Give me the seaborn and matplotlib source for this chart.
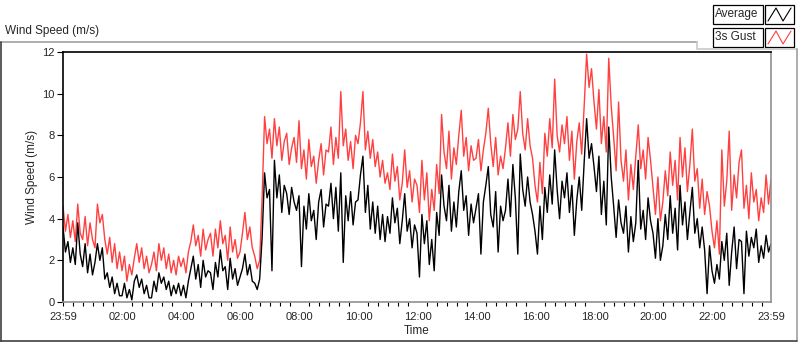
import matplotlib
matplotlib.use("Agg")
import pandas as pd
import seaborn as sns
import matplotlib.pyplot as plt
import matplotlib.dates as mdates
from matplotlib.lines import Line2D
from matplotlib.patches import Rectangle

# 3s gust, one reading every 5 minutes from 23:59
gust = [
    4.6, 3.4, 4.2, 3.1, 3.9, 2.9, 4.7, 3.3, 3.0, 4.1, 2.7, 3.8,
    3.0, 2.6, 4.7, 3.8, 4.2, 3.0, 2.3, 3.1, 1.9, 2.8, 1.6, 2.4,
    1.5, 2.2, 1.0, 1.8, 1.3, 2.1, 2.8, 1.9, 2.6, 1.6, 2.2, 1.4,
    1.8, 2.4, 1.5, 2.8, 2.0, 2.6, 1.6, 2.3, 1.4, 2.0, 1.3, 2.2,
    1.7, 2.1, 1.4, 2.4, 2.9, 3.7, 2.7, 3.2, 2.2, 3.5, 2.5, 3.0,
    3.3, 2.2, 3.5, 2.6, 3.9, 2.8, 3.2, 2.0, 3.6, 2.4, 3.0, 2.1,
    2.4, 3.3, 4.3, 3.0, 3.6, 2.6, 2.2, 1.6, 2.0, 5.0, 8.9, 7.6,
    8.3, 6.9, 8.8, 7.5, 8.4, 6.8, 7.7, 8.1, 6.6, 7.4, 7.9, 6.7,
    8.7, 6.4, 7.3, 5.9, 7.8, 6.5, 7.0, 5.7, 6.8, 7.6, 6.1, 7.3,
    7.2, 8.4, 6.6, 7.9, 6.9, 10.1, 7.5, 8.3, 6.8, 7.7, 6.4, 8.0,
    7.6, 8.6, 10.1, 7.3, 8.2, 6.9, 7.8, 6.5, 7.2, 6.0, 6.8, 5.7,
    6.2, 5.4, 7.1, 5.8, 6.5, 4.9, 5.7, 7.3, 5.5, 6.3, 4.8, 5.9,
    5.6, 4.3, 6.8, 4.9, 6.2, 3.9, 5.4, 4.4, 6.6, 5.2, 9.0, 7.2,
    6.4, 8.2, 5.9, 7.4, 6.6, 8.0, 9.2, 7.0, 7.9, 6.3, 7.5, 6.8,
    6.9, 7.8, 6.3, 7.3, 8.1, 9.3, 7.6, 6.5, 7.9, 6.1, 7.0, 6.4,
    7.4, 8.6, 7.0, 9.0, 7.8, 8.3, 10.1, 8.1, 7.3, 8.8, 7.5, 6.9,
    5.6, 4.8, 6.7, 5.2, 8.1, 7.0, 8.8, 7.4, 10.7, 8.0, 7.2, 8.5,
    7.6, 8.9, 6.8, 8.2, 5.9, 7.7, 8.6, 7.1, 9.4, 11.9, 10.3, 11.2,
    9.6, 8.3, 10.2, 7.6, 8.9, 7.2, 11.7, 9.4, 7.9, 6.3, 9.6, 6.8,
    5.8, 7.3, 4.9, 6.6, 5.4, 7.0, 8.5, 6.4, 7.3, 5.9, 7.9, 6.8,
    5.5, 4.2, 6.0, 3.9, 4.8, 6.3, 5.1, 7.2, 5.6, 6.8, 4.9, 7.9,
    6.0, 7.4, 5.3, 6.6, 8.3, 5.8, 6.4, 4.5, 5.9, 4.2, 5.3, 4.6,
    3.4, 2.6, 3.9, 2.3, 7.3, 4.6, 5.8, 8.2, 4.4, 6.1, 5.0, 6.7,
    7.3, 4.5, 5.6, 4.0, 6.2, 4.8, 5.4, 3.9, 5.0, 4.3, 6.1, 4.7, 5.9,
]

# average wind speed, same timestamps
average = [
    3.6, 2.4, 2.9, 1.9, 2.6, 1.8, 3.8, 2.3, 1.7, 2.8, 1.4, 2.3,
    1.3, 1.9, 2.8, 2.0, 2.6, 1.1, 1.4, 0.7, 1.2, 0.4, 0.9, 0.3,
    0.3, 0.9, 0.2, 0.6, 0.1, 1.0, 1.3, 0.7, 1.1, 0.4, 0.8, 0.2,
    0.2, 1.0, 0.5, 1.4, 0.9, 1.2, 0.6, 1.0, 0.3, 0.8, 0.4, 0.9,
    0.3, 0.8, 0.2, 1.0, 1.6, 2.2, 1.1, 1.8, 0.7, 2.0, 1.2, 1.5,
    1.4, 0.6, 1.9, 1.2, 2.5, 1.5, 1.7, 0.6, 2.1, 1.1, 1.6, 0.8,
    1.2, 1.6, 2.3, 1.3, 1.8, 1.0, 0.9, 0.6, 1.1, 3.1, 6.2, 5.0,
    5.4, 1.5, 6.8, 5.0, 6.1, 4.3, 5.6, 5.2, 4.2, 5.5, 4.8, 4.4,
    5.1, 1.7, 4.6, 3.5, 5.2, 3.9, 4.4, 3.0, 4.8, 5.4, 3.6, 4.7,
    4.6, 5.7, 4.0, 5.5, 3.4, 6.2, 1.9, 5.1, 3.9, 5.3, 3.7, 4.8,
    4.9, 6.1, 7.0, 4.3, 5.6, 3.5, 4.8, 3.3, 4.6, 3.0, 4.2, 2.9,
    4.1, 3.3, 5.0, 3.8, 4.5, 2.8, 3.9, 5.2, 3.4, 4.0, 2.6, 3.7,
    3.3, 1.2, 4.2, 2.8, 3.9, 1.8, 3.0, 1.5, 4.3, 3.2, 6.1, 4.6,
    3.9, 5.6, 3.4, 4.8, 3.6, 5.3, 6.3, 4.4, 5.1, 3.2, 4.7, 3.8,
    4.5, 5.2, 2.3, 4.8, 5.6, 6.5, 4.2, 3.6, 5.3, 2.4, 4.6, 3.9,
    4.4, 5.9, 4.1, 6.6, 5.0, 2.3, 7.1, 5.4, 4.6, 6.0, 4.8, 4.2,
    3.4, 2.3, 4.6, 3.0, 5.5, 4.3, 6.1, 4.7, 7.3, 5.4, 4.0, 5.8,
    5.0, 6.2, 4.3, 5.6, 3.2, 4.9, 6.0, 4.4, 6.7, 8.8, 6.9, 7.6,
    6.5, 5.3, 7.0, 4.2, 5.8, 3.7, 8.4, 6.0, 4.6, 3.1, 4.9, 3.8,
    3.3, 4.6, 2.4, 4.1, 2.9, 3.8, 6.8, 3.5, 4.4, 3.0, 5.0, 3.9,
    3.3, 2.1, 4.0, 2.0, 2.7, 4.2, 3.0, 5.1, 3.3, 4.5, 2.5, 5.6,
    3.7, 4.8, 3.0, 4.3, 5.5, 3.3, 4.0, 2.6, 3.6, 2.5, 0.4, 2.7,
    1.5, 0.9, 1.8, 1.1, 2.9, 2.0, 3.3, 0.8, 2.4, 3.6, 1.6, 3.0,
    2.9, 0.4, 3.4, 2.2, 3.1, 2.6, 3.5, 1.9, 2.7, 2.1, 3.2, 2.4, 2.8,
]

tick_labels = ["23:59", "02:00", "04:00", "06:00", "08:00", "10:00", "12:00",
               "14:00", "16:00", "18:00", "20:00", "22:00", "23:59"]
y_ticks = [0, 2, 4, 6, 8, 10, 12]

times = pd.date_range("2020-01-01 23:59", periods=len(gust), freq="5min")
df = pd.DataFrame({
    "Time": list(times) * 2,
    "Wind": gust + average,
    "Series": ["3s Gust"] * len(gust) + ["Average"] * len(average),
})

sns.set_style("white")
plt.rcParams["font.family"] = ["Liberation Sans", "DejaVu Sans"]

W, H = 800, 342
def fx(px):
    return px / W
def fy(py):
    return 1 - py / H

fig = plt.figure(figsize=(8, 3.42), dpi=100)
ax = fig.add_axes([fx(63), fy(302), (771 - 63) / W, (302 - 52) / H])

sns.lineplot(data=df, x="Time", y="Wind", hue="Series",
             hue_order=["3s Gust", "Average"],
             palette={"3s Gust": "#ff4040", "Average": "black"},
             estimator=None, linewidth=1.0, legend=False, ax=ax)

ax.set_xlim(times[0], times[-1])
ax.set_ylim(0, 12)

# major ticks: start, every 2 hours, end
major = [times[0]] + [pd.Timestamp("2020-01-02 02:00") + pd.Timedelta(hours=2 * k) for k in range(11)] + [times[-1]]
ax.set_xticks(major)
ax.set_xticklabels(tick_labels)
ax.xaxis.set_minor_locator(mdates.MinuteLocator(byminute=[0, 20, 40]))
ax.set_yticks(y_ticks)
ax.set_yticklabels([str(v) for v in y_ticks])

ax.tick_params(axis="x", which="major", direction="out", length=5, width=0.8,
               color="black", labelsize=8, pad=2)
ax.tick_params(axis="x", which="minor", direction="out", length=3, width=0.8,
               color="black", bottom=True)
ax.tick_params(axis="y", which="major", direction="out", length=4, width=0.8,
               color="black", labelsize=8, pad=2, left=True)

ax.set_xlabel("Time", fontsize=8.5, labelpad=2)
ax.set_ylabel("Wind Speed (m/s)", fontsize=8.5, labelpad=3)

for side in ["top", "left"]:
    ax.spines[side].set_color("black")
    ax.spines[side].set_linewidth(1.2)
for side in ["right", "bottom"]:
    ax.spines[side].set_color("#909090")
    ax.spines[side].set_linewidth(1.2)

# panel title and frame
fig.text(fx(5), fy(31), "Wind Speed (m/s)", fontsize=8.5, va="center", ha="left")
frame = dict(transform=fig.transFigure, lw=1.2)
fig.add_artist(Line2D([fx(0), fx(697)], [fy(42), fy(42)], color="#a0a0a0", **frame))
fig.add_artist(Line2D([fx(697), fx(697), fx(797)], [fy(42), fy(49), fy(49)], color="#c8c8c8", **frame))
fig.add_artist(Line2D([fx(797), fx(797)], [fy(49), fy(341)], color="#a0a0a0", **frame))
fig.add_artist(Line2D([fx(0.5), fx(0.5)], [fy(42), fy(341)], color="#404040", **frame))
fig.add_artist(Line2D([fx(0), fx(797)], [fy(340.5), fy(340.5)], color="#404040", **frame))

# legend boxes
legend_items = [("Average", "black", 5), ("3s Gust", "#ff4040", 28)]
for name, col, top in legend_items:
    fig.add_artist(Rectangle((fx(713), fy(top + 19)), 50 / W, 19 / H, transform=fig.transFigure,
                             facecolor="white", edgecolor="black", lw=0.9))
    fig.add_artist(Rectangle((fx(765), fy(top + 19)), 29 / W, 19 / H, transform=fig.transFigure,
                             facecolor="white", edgecolor="black", lw=0.9))
    fig.text(fx(715), fy(top + 9.5), name, fontsize=8.5, va="center", ha="left")
    fig.add_artist(Line2D([fx(768), fx(776), fx(783), fx(791)],
                          [fy(top + 16), fy(top + 3), fy(top + 16), fy(top + 3)],
                          transform=fig.transFigure, color=col, lw=0.8))

fig.savefig("out.png", dpi=100)
